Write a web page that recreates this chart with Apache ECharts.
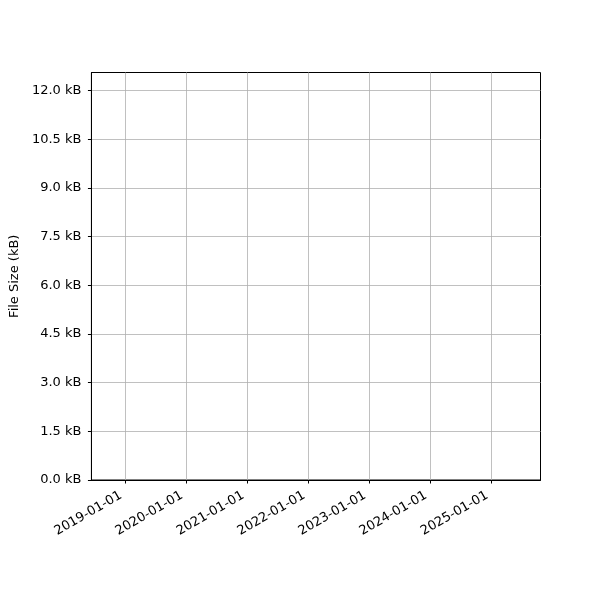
<!DOCTYPE html>
<html lang="en">
<head>
<meta charset="utf-8" />
<style>
  html, body { margin: 0; padding: 0; background: #fff; }
  .box { width: 600px; height: 600px; }
</style>
</head>
<body>
<div class="box"></div>
<script src="https://cdn.jsdelivr.net/npm/echarts@6/dist/echarts.min.js"></script>
<script>
// data (the reference plot is empty: no points)
var dates = [];
var sizes = [];
var xTickLabels = ['2019-01-01', '2020-01-01', '2021-01-01', '2022-01-01', '2023-01-01', '2024-01-01', '2025-01-01'];
var yTicks = [0, 1.5, 3, 4.5, 6, 7.5, 9, 10.5, 12];

var xTicks = xTickLabels.map(function (s) { return Date.parse(s + 'T00:00:00Z'); });
var xMin = Date.parse('2018-06-12T00:00:00Z');
var xMax = Date.parse('2025-10-21T00:00:00Z');

function fmtDate(v) {
    var d = new Date(v);
    var m = d.getUTCMonth() + 1, day = d.getUTCDate();
    return d.getUTCFullYear() + '-' + (m < 10 ? '0' : '') + m + '-' + (day < 10 ? '0' : '') + day;
}

var myChart = echarts.init(document.querySelector('.box'));
var font = 'DejaVu Sans';

var option = {
    animation: false,
    grid: {
        left: 90.5, right: 59.5, top: 72.5, bottom: 120,
        show: true, borderColor: '#000', borderWidth: 1, backgroundColor: 'transparent'
    },
    xAxis: {
        type: 'value',
        min: xMin,
        max: xMax,
        axisLine: { show: true, lineStyle: { color: '#000', width: 1 } },
        axisTick: { show: true, length: 3.5, customValues: xTicks, lineStyle: { color: '#000', width: 1 } },
        axisLabel: {
            customValues: xTicks,
            rotate: 30,
            margin: 12,
            padding: [0, 5, 0, 0],
            color: '#000',
            fontFamily: font,
            fontSize: 13,
            formatter: fmtDate
        },
        splitLine: { show: true, customValues: xTicks, lineStyle: { color: '#b0b0b0', width: 0.8 } }
    },
    yAxis: {
        type: 'value',
        min: 0,
        max: 12.554,
        name: 'File Size (kB)',
        nameLocation: 'middle',
        nameGap: 68,
        nameTextStyle: { color: '#000', fontFamily: font, fontSize: 13 },
        axisLine: { show: true, lineStyle: { color: '#000', width: 1 } },
        axisTick: { show: true, length: 3.5, customValues: yTicks, lineStyle: { color: '#000', width: 1 } },
        axisLabel: {
            customValues: yTicks,
            margin: 10,
            color: '#000',
            fontFamily: font,
            fontSize: 13,
            formatter: function (v) { return v.toFixed(1) + ' kB'; }
        },
        splitLine: { show: true, customValues: yTicks, lineStyle: { color: '#b0b0b0', width: 0.8 } }
    },
    series: [{
        type: 'line',
        data: dates.map(function (d, i) { return [Date.parse(d), sizes[i]]; }),
        showSymbol: true
    }]
};

myChart.setOption(option);
</script>
</body>
</html>
